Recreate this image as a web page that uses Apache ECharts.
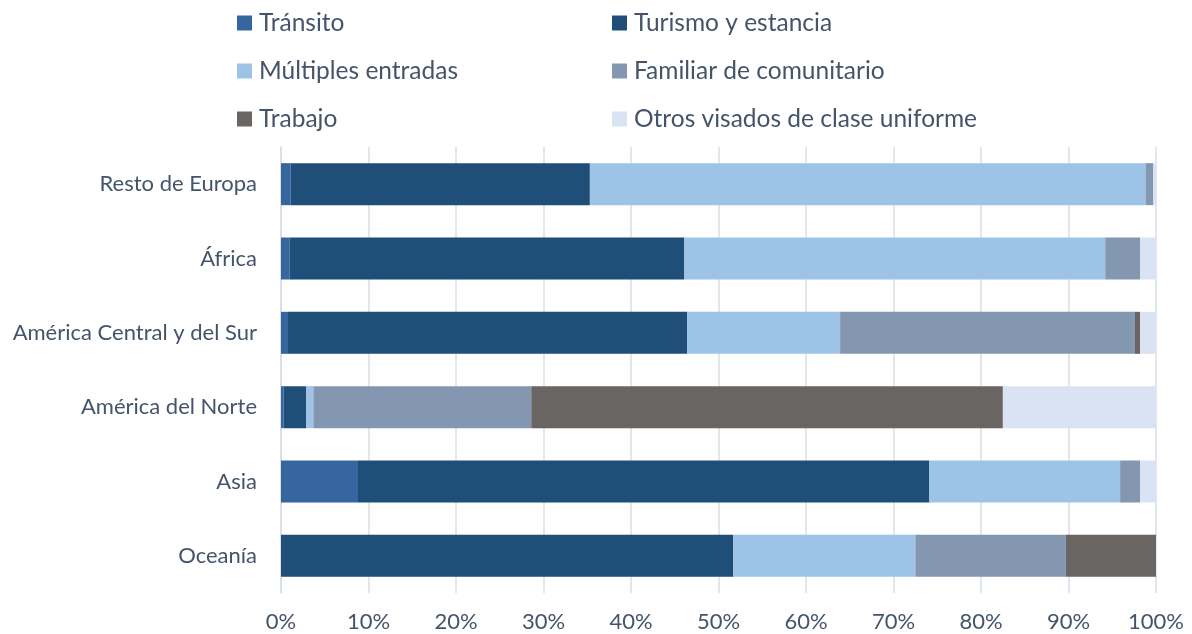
<!DOCTYPE html>
<html>
<head>
<meta charset="utf-8">
<script src="https://cdn.jsdelivr.net/npm/echarts@6/dist/echarts.min.js"></script>
<style>
  html, body { margin: 0; padding: 0; background: #fff; }
  #chart { width: 1192px; height: 634px; }
</style>
</head>
<body>
<div id="chart"></div>
<script>
// categorías de arriba a abajo
const categories = ['Resto de Europa', 'África', 'América Central y del Sur', 'América del Norte', 'Asia', 'Oceanía'];

// porcentajes
const transito = [1.1, 1.0, 0.8, 0.3, 8.8, 0];
const turismo = [34.2, 45.1, 45.6, 2.6, 65.3, 51.7];
const multiples = [63.5, 48.1, 17.5, 0.8, 21.8, 20.8];
const familiar = [0.9, 4.0, 33.7, 24.9, 2.3, 17.2];
const trabajo = [0, 0, 0.6, 53.9, 0, 10.3];
const otros = [0.3, 1.8, 1.8, 17.5, 1.8, 0];

const seriesNames = ['Tránsito', 'Turismo y estancia', 'Múltiples entradas', 'Familiar de comunitario', 'Trabajo', 'Otros visados de clase uniforme'];
const seriesData = [transito, turismo, multiples, familiar, trabajo, otros];
const colors = ['#3665A0', '#1F4E79', '#9DC3E6', '#8497B0', '#696563', '#DAE3F3'];

const textColor = '#44546A';
const font = 'Lato';
const gridColor = '#D9DEE7';

const legendBase = {
  orient: 'vertical',
  top: 4,
  itemWidth: 15,
  itemHeight: 15,
  itemGap: 20,
  icon: 'rect',
  selectedMode: false,
  textStyle: {
    color: textColor,
    fontFamily: font,
    fontSize: 24.5,
    lineHeight: 28,
    padding: [0, 0, 0, 2],
  },
};

const options = {
  animation: false,
  color: colors,
  legend: [
    Object.assign({}, legendBase, { left: 232, data: [seriesNames[0], seriesNames[2], seriesNames[4]] }),
    Object.assign({}, legendBase, { left: 607, data: [seriesNames[1], seriesNames[3], seriesNames[5]] }),
  ],
  grid: {
    left: 281,
    right: 36,
    top: 147,
    bottom: 41,
  },
  xAxis: {
    type: 'value',
    min: 0,
    max: 100,
    interval: 10,
    axisLine: { show: false },
    axisTick: { show: false },
    splitLine: { lineStyle: { color: gridColor, width: 1.5 } },
    axisLabel: {
      formatter: '{value}%',
      color: textColor,
      fontFamily: font,
      fontSize: 22,
      margin: 18,
    },
  },
  yAxis: {
    type: 'category',
    inverse: true,
    data: categories,
    axisTick: { show: false },
    axisLine: { lineStyle: { color: gridColor, width: 1.5 } },
    axisLabel: {
      color: textColor,
      fontFamily: font,
      fontSize: 22,
      margin: 24,
    },
  },
  series: seriesNames.map((name, i) => ({
    name,
    type: 'bar',
    stack: 'total',
    barWidth: 42,
    data: seriesData[i],
  })),
};

const chart = echarts.init(document.getElementById('chart'));
chart.setOption(options);
window.addEventListener('resize', () => { chart.resize(); });
</script>
</body>
</html>
